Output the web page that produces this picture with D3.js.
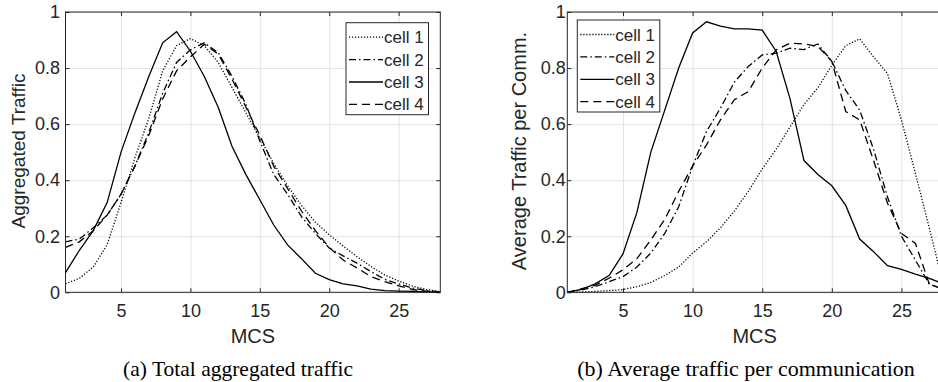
<!DOCTYPE html>
<html>
<head>
<meta charset="utf-8">
<script src="https://cdn.jsdelivr.net/npm/d3@7"></script>
<style>
  body { margin: 0; background: #fff; }
  text { font-family: "Liberation Sans", Arial, sans-serif; fill: #262626; }
  .caption { font-family: "Liberation Serif", "Times New Roman", serif; fill: #000; }
</style>
</head>
<body>
<svg class="chart"></svg>
<script>
// MCS index on the x axis
var mcs = [1, 2, 3, 4, 5, 6, 7, 8, 9, 10, 11, 12, 13, 14, 15, 16, 17, 18, 19, 20, 21, 22, 23, 24, 25, 26, 27, 28];
var xTicks = [5, 10, 15, 20, 25];
var yTicks = [0, 0.2, 0.4, 0.6, 0.8, 1];
var cellNames = ["cell 1", "cell 2", "cell 3", "cell 4"];

// (a) total aggregated traffic
var aggCell1 = [0.03, 0.05, 0.09, 0.17, 0.32, 0.48, 0.62, 0.79, 0.88, 0.905, 0.88, 0.82, 0.73, 0.64, 0.55, 0.46, 0.38, 0.31, 0.25, 0.205, 0.165, 0.127, 0.092, 0.062, 0.04, 0.022, 0.01, 0.002];
var aggCell2 = [0.18, 0.19, 0.23, 0.275, 0.35, 0.45, 0.57, 0.71, 0.82, 0.865, 0.89, 0.855, 0.77, 0.67, 0.54, 0.42, 0.35, 0.27, 0.21, 0.158, 0.13, 0.104, 0.074, 0.046, 0.03, 0.015, 0.006, 0.002];
var aggCell3 = [0.07, 0.15, 0.22, 0.32, 0.5, 0.64, 0.77, 0.89, 0.93, 0.86, 0.77, 0.66, 0.52, 0.42, 0.33, 0.24, 0.169, 0.12, 0.068, 0.045, 0.03, 0.023, 0.011, 0.006, 0.004, 0.003, 0.001, 0];
var aggCell4 = [0.16, 0.18, 0.22, 0.275, 0.35, 0.45, 0.56, 0.69, 0.79, 0.84, 0.885, 0.85, 0.76, 0.66, 0.56, 0.45, 0.37, 0.29, 0.22, 0.16, 0.115, 0.087, 0.056, 0.038, 0.023, 0.01, 0.004, 0.001];

// (b) average traffic per communication
var commCell1 = [0, 0.001, 0.003, 0.006, 0.01, 0.02, 0.035, 0.06, 0.09, 0.14, 0.18, 0.23, 0.29, 0.36, 0.44, 0.51, 0.59, 0.67, 0.73, 0.81, 0.88, 0.904, 0.84, 0.78, 0.615, 0.425, 0.23, 0.03];
var commCell2 = [0, 0.008, 0.02, 0.038, 0.056, 0.09, 0.14, 0.21, 0.305, 0.45, 0.574, 0.657, 0.75, 0.806, 0.847, 0.853, 0.871, 0.866, 0.886, 0.824, 0.72, 0.65, 0.51, 0.34, 0.2, 0.115, 0.03, 0.01];
var commCell3 = [0, 0.01, 0.03, 0.06, 0.137, 0.285, 0.5, 0.65, 0.8, 0.925, 0.965, 0.95, 0.94, 0.94, 0.935, 0.86, 0.69, 0.47, 0.42, 0.38, 0.31, 0.19, 0.145, 0.095, 0.082, 0.065, 0.05, 0.03];
var commCell4 = [0, 0.012, 0.025, 0.05, 0.08, 0.12, 0.187, 0.26, 0.36, 0.45, 0.526, 0.615, 0.687, 0.716, 0.8, 0.865, 0.889, 0.886, 0.877, 0.824, 0.645, 0.615, 0.47, 0.318, 0.21, 0.175, 0.03, 0.01];

// matlab style line types for the four cells
var dashes = ["1.2,1.8", "7,3,1.5,3", null, "8,5"];

var svg = d3.select(".chart")
    .attr("width", 938)
    .attr("height", 382);

function drawPanel(p) {
  var x = d3.scaleLinear().domain([1, 28]).range([p.left, p.right]);
  var y = d3.scaleLinear().domain([0, 1]).range([292.3, 12]);
  var g = svg.append("g");

  // grid
  g.append("g")
      .attr("transform", "translate(0,292.3)")
      .call(d3.axisBottom(x).tickValues(xTicks).tickSize(-280.3).tickFormat(""))
      .call(s => s.select(".domain").remove())
      .call(s => s.selectAll("line").attr("stroke", "#e3e3e3"));
  g.append("g")
      .attr("transform", "translate(" + p.left + ",0)")
      .call(d3.axisLeft(y).tickValues(yTicks).tickSize(-(p.right - p.left)).tickFormat(""))
      .call(s => s.select(".domain").remove())
      .call(s => s.selectAll("line").attr("stroke", "#e3e3e3"));

  // series
  var line = d3.line().x((d, i) => x(mcs[i])).y(d => y(d));
  p.series.forEach(function(s, k) {
    g.append("path")
        .datum(s)
        .attr("d", line)
        .attr("fill", "none")
        .attr("stroke", "#000")
        .attr("stroke-width", 1.3)
        .attr("stroke-dasharray", dashes[k]);
  });

  // axes box with inner ticks on all sides
  var ticks = g.append("g").attr("class", "ticks");
  ticks.append("g")
      .attr("transform", "translate(0,292.3)")
      .call(d3.axisBottom(x).tickValues(xTicks).tickSizeInner(-4).tickSizeOuter(0).tickPadding(12));
  ticks.append("g")
      .attr("transform", "translate(" + p.left + ",0)")
      .call(d3.axisLeft(y).tickValues(yTicks).tickSizeInner(-4).tickSizeOuter(0).tickPadding(p.pad).tickFormat(d => String(d)));
  ticks.append("g")
      .attr("transform", "translate(0,12)")
      .call(d3.axisTop(x).tickValues(xTicks).tickSizeInner(-4).tickSizeOuter(0).tickFormat(""));
  ticks.append("g")
      .attr("transform", "translate(" + p.right + ",0)")
      .call(d3.axisRight(y).tickValues(yTicks).tickSizeInner(-4).tickSizeOuter(0).tickFormat(""));
  ticks.selectAll(".domain").remove();
  ticks.selectAll(".tick line").attr("stroke", "#262626");
  ticks.selectAll(".tick text")
      .attr("font-family", "Liberation Sans, Arial, sans-serif")
      .attr("font-size", 18)
      .attr("fill", "#262626");

  g.append("rect")
      .attr("x", p.left)
      .attr("y", 12)
      .attr("width", p.right - p.left)
      .attr("height", 280.3)
      .attr("fill", "none")
      .attr("stroke", "#262626")
      .attr("stroke-width", 1);

  // axis labels
  g.append("text")
      .attr("x", (p.left + Math.min(p.right, 938)) / 2 + p.mcsShift)
      .attr("y", 343)
      .attr("text-anchor", "middle")
      .attr("font-size", 20)
      .text("MCS");
  g.append("text")
      .attr("transform", "translate(" + p.ylabX + ",151) rotate(-90)")
      .attr("text-anchor", "middle")
      .attr("font-size", p.ylabSize)
      .text(p.ylabel);

  // legend
  var lg = g.append("g");
  lg.append("rect")
      .attr("x", p.legX)
      .attr("y", p.legY)
      .attr("width", 82.5)
      .attr("height", 92)
      .attr("fill", "#fff")
      .attr("stroke", "#262626")
      .attr("stroke-width", 1);
  cellNames.forEach(function(name, k) {
    var cy = p.legY + 14.5 + k * 22.4;
    lg.append("line")
        .attr("x1", p.legX + 3)
        .attr("x2", p.legX + 37)
        .attr("y1", cy)
        .attr("y2", cy)
        .attr("stroke", "#000")
        .attr("stroke-width", 1.3)
        .attr("stroke-dasharray", dashes[k]);
    lg.append("text")
        .attr("x", p.legX + 38)
        .attr("y", cy + 6)
        .attr("font-size", 17)
        .text(name);
  });

  // caption under the panel
  svg.append("text")
      .attr("class", "caption")
      .attr("x", p.capX)
      .attr("y", 376)
      .attr("text-anchor", "middle")
      .attr("font-size", p.capSize)
      .text(p.caption);
}

drawPanel({
  left: 65.5, right: 440.3, pad: 5.5,
  series: [aggCell1, aggCell2, aggCell3, aggCell4],
  ylabel: "Aggregated Traffic", ylabX: 25, ylabSize: 19, mcsShift: 0,
  legX: 346, legY: 22.7,
  caption: "(a) Total aggregated traffic", capX: 238, capSize: 21.5
});

drawPanel({
  left: 567.3, right: 943.2, pad: 1.5,
  series: [commCell1, commCell2, commCell3, commCell4],
  ylabel: "Average Traffic per Comm.", ylabX: 526, ylabSize: 20, mcsShift: 2,
  legX: 577.3, legY: 20,
  caption: "(b) Average traffic per communication", capX: 746, capSize: 22
});
</script>
</body>
</html>
